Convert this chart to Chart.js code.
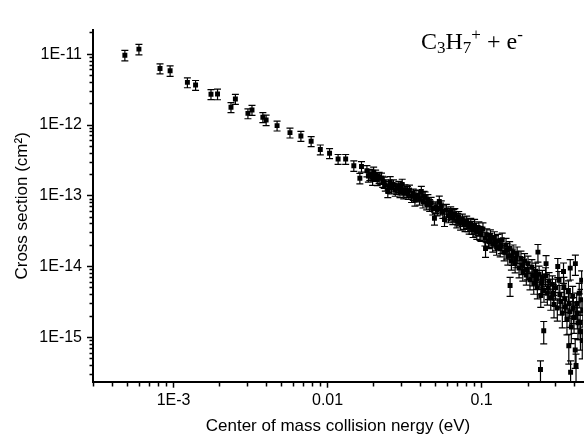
<!DOCTYPE html>
<html>
<head>
<meta charset="utf-8">
<script src="https://cdn.jsdelivr.net/npm/chart.js@4/dist/chart.umd.min.js"></script>
<style>
  html, body { margin: 0; padding: 0; background: #fff; }
  #wrap { position: relative; width: 587px; height: 437px; overflow: hidden; }
  #label {
    position: absolute; left: 421px; top: 29px;
    font-family: 'Liberation Serif', 'Times New Roman', serif;
    font-size: 24px; line-height: 24px; color: #000; white-space: nowrap;
  }
  #label sub, #label sup { font-size: 17px; position: relative; vertical-align: baseline; }
  #label sub { top: 4px; }
  #label sup { top: -9px; }
</style>
</head>
<body>
<div id="wrap">
  <canvas id="chart" width="587" height="437"></canvas>
  <div id="label">C<sub>3</sub>H<sub>7</sub><sup>+</sup> + e<sup>-</sup></div>
</div>
<script>
const X_TITLE = 'Center of mass collision nergy (eV)';
const Y_TITLE = 'Cross section (cm\u00B2)';

const X_TICK_VALUES = [1e-3, 1e-2, 1e-1];
const X_TICK_LABELS = ['1E-3', '0.01', '0.1'];
const Y_TICK_VALUES = [1e-15, 1e-14, 1e-13, 1e-12, 1e-11];
const Y_TICK_LABELS = ['1E-15', '1E-14', '1E-13', '1E-12', '1E-11'];

const X_MIN = 3e-4, X_MAX = 0.455;
const Y_MIN = 2.36e-16, Y_MAX = 2.2e-11;

// energy (eV)
const ENERGY = [
  4.83e-4, 5.96e-4, 8.17e-4, 9.5e-4, 1.23e-3, 1.39e-3, 1.75e-3, 1.93e-3, 2.36e-3, 2.52e-3,
  3.04e-3, 3.23e-3, 3.80e-3, 3.99e-3, 4.70e-3, 5.70e-3, 6.71e-3, 7.82e-3, 8.97e-3, 0.0103,
  0.0117, 0.0131, 0.0148, 0.0162, 0.0166,
  0.0180, 0.0184, 0.0196, 0.0199, 0.0205, 0.0216, 0.0224, 0.0228, 0.0237, 0.0246,
  0.0255, 0.0260, 0.0268, 0.0281, 0.0290, 0.0295, 0.0305, 0.0318, 0.0330, 0.0334,
  0.0351, 0.0369, 0.0375, 0.0388, 0.0406, 0.0416, 0.0430, 0.0448, 0.0460, 0.0482,
  0.0494, 0.0505, 0.0531, 0.0547, 0.0560, 0.0574,
  0.059, 0.061, 0.063, 0.065, 0.067, 0.069, 0.071, 0.073, 0.075, 0.078,
  0.080, 0.083, 0.085, 0.088, 0.090, 0.093, 0.096, 0.099, 0.102, 0.105,
  0.106, 0.108, 0.111, 0.114, 0.118, 0.121, 0.125, 0.128, 0.132, 0.136,
  0.140, 0.144, 0.148, 0.152, 0.153, 0.156, 0.160, 0.165, 0.170, 0.175,
  0.180, 0.185, 0.190, 0.195, 0.200, 0.206, 0.212, 0.218, 0.224, 0.230,
  0.232, 0.236, 0.241, 0.242, 0.248, 0.253, 0.254, 0.260, 0.262, 0.267,
  0.274, 0.281, 0.288, 0.295, 0.302, 0.310, 0.312, 0.318, 0.326, 0.334,
  0.340, 0.342, 0.350, 0.358, 0.366, 0.368, 0.374, 0.376, 0.378, 0.382,
  0.390, 0.398, 0.405, 0.406, 0.410, 0.414, 0.422, 0.430, 0.436, 0.438,
  0.446, 0.450, 0.454,
  // second sweep, interleaved with the first
  0.0188, 0.0210, 0.0233, 0.0250, 0.0275, 0.0300, 0.0312, 0.0340, 0.0360, 0.0395,
  0.0423, 0.0440, 0.0470, 0.0515, 0.0540, 0.0620, 0.0660, 0.0700, 0.0765, 0.0815,
  0.0865, 0.0915, 0.0975, 0.113, 0.123, 0.134, 0.146, 0.158, 0.167, 0.183,
  0.198, 0.215, 0.227, 0.245, 0.271, 0.292, 0.322, 0.346, 0.370, 0.394,
  0.418, 0.442
];

// cross section (cm2)
const XSEC = [
  9.7e-12, 1.18e-11, 6.3e-12, 5.85e-12, 4.0e-12, 3.67e-12, 2.72e-12, 2.74e-12, 1.78e-12, 2.33e-12,
  1.46e-12, 1.63e-12, 1.29e-12, 1.18e-12, 9.8e-13, 7.8e-13, 7.0e-13, 5.9e-13, 4.5e-13, 4.0e-13,
  3.3e-13, 3.3e-13, 2.66e-13, 1.77e-13, 2.6e-13,
  2.26e-13, 1.90e-13, 1.71e-13, 2.15e-13, 1.95e-13, 1.82e-13, 1.77e-13, 1.60e-13, 1.42e-13, 1.15e-13,
  1.58e-13, 1.30e-13, 1.42e-13, 1.28e-13, 1.35e-13, 1.15e-13, 1.45e-13, 1.21e-13, 1.15e-13, 1.08e-13,
  9.8e-14, 8.7e-14, 1.0e-13, 1.02e-13, 1.15e-13, 8.3e-14, 9.5e-14, 8.7e-14, 7.4e-14, 6.6e-14,
  4.8e-14, 6.9e-14, 8.3e-14, 7.1e-14, 6.0e-14, 4.6e-14,
  6.3e-14, 5.2e-14, 5.8e-14, 4.9e-14, 5.5e-14, 4.4e-14, 5.0e-14, 4.1e-14, 4.6e-14, 3.9e-14,
  4.3e-14, 3.6e-14, 4.0e-14, 3.3e-14, 3.8e-14, 3.1e-14, 3.5e-14, 2.9e-14, 3.4e-14, 2.5e-14,
  1.8e-14, 2.8e-14, 2.3e-14, 2.7e-14, 2.1e-14, 2.5e-14, 1.9e-14, 2.3e-14, 1.8e-14, 2.4e-14,
  1.6e-14, 2.0e-14, 1.4e-14, 1.8e-14, 5.4e-15, 1.2e-14, 1.6e-14, 1.1e-14, 1.5e-14, 9.5e-15,
  1.3e-14, 8.5e-15, 1.2e-14, 7.6e-15, 1.1e-14, 6.5e-15, 9.8e-15, 5.8e-15, 8.6e-15, 5.0e-15,
  1.6e-14, 7.8e-15, 3.5e-16, 3.9e-15, 6.8e-15, 1.24e-15, 4.6e-15, 7.4e-15, 1.1e-14, 4.2e-15,
  6.2e-15, 3.6e-15, 5.6e-15, 2.9e-15, 5.0e-15, 2.6e-15, 1.0e-14, 6.4e-15, 3.2e-15, 2.2e-15,
  8.5e-15, 5.2e-15, 2.7e-15, 1.8e-15, 4.6e-15, 7.6e-16, 2.3e-15, 9.5e-15, 3.2e-16, 1.4e-15,
  3.8e-15, 1.9e-15, 6.6e-16, 1.1e-14, 4.0e-16, 3.0e-15, 1.6e-15, 4.2e-15, 1.6e-15, 1.2e-15,
  6.4e-15, 9.0e-16, 2.4e-15,
  2.0e-13, 1.7e-13, 1.55e-13, 1.35e-13, 1.2e-13, 1.25e-13, 1.1e-13, 1.2e-13, 1.05e-13, 9.0e-14,
  9.8e-14, 7.8e-14, 8.0e-14, 6.4e-14, 6.6e-14, 5.5e-14, 5.3e-14, 4.7e-14, 4.2e-14, 3.9e-14,
  3.6e-14, 3.4e-14, 3.0e-14, 2.4e-14, 2.2e-14, 2.0e-14, 1.7e-14, 1.4e-14, 1.3e-14, 1.05e-14,
  9.0e-15, 7.5e-15, 6.8e-15, 5.8e-15, 5.0e-15, 4.2e-15, 4.0e-15, 3.5e-15, 3.0e-15, 2.6e-15,
  2.2e-15, 3.4e-15
];

// relative error of each point
const REL_ERR = [
  .17, .17, .16, .17, .16, .16, .16, .17, .16, .16,
  .16, .16, .16, .17, .16, .16, .16, .16, .16, .16,
  .16, .16, .17, .17, .17,
  .18, .18, .18, .18, .18, .18, .18, .18, .18, .18,
  .18, .18, .18, .18, .18, .18, .18, .18, .18, .18,
  .18, .18, .18, .18, .18, .19, .19, .19, .19, .19,
  .2, .19, .19, .19, .2, .2,
  .2, .2, .2, .2, .2, .2, .2, .2, .2, .2,
  .2, .2, .2, .22, .22, .22, .22, .22, .22, .22,
  .25, .22, .22, .22, .24, .24, .24, .24, .24, .24,
  .25, .25, .25, .25, .3, .26, .26, .26, .26, .27,
  .27, .27, .27, .28, .28, .28, .28, .3, .3, .3,
  .28, .3, .33, .32, .3, .35, .32, .3, .3, .32,
  .32, .33, .32, .35, .33, .35, .3, .33, .35, .38,
  .32, .35, .38, .4, .36, .45, .4, .32, .45, .42,
  .38, .4, .45, .32, .45, .4, .42, .38, .42, .45,
  .36, .45, .42,
  .18, .18, .18, .18, .18, .18, .18, .18, .18, .18,
  .18, .19, .19, .19, .19, .2, .2, .2, .2, .2,
  .21, .21, .22, .23, .24, .24, .25, .26, .26, .27,
  .28, .29, .3, .31, .32, .33, .35, .36, .38, .4,
  .4, .4
];

function logTicks(min, max) {
  const out = [];
  for (let n = Math.floor(Math.log10(min)); n <= Math.ceil(Math.log10(max)); n++) {
    for (let m = 1; m < 10; m++) {
      const v = m * Math.pow(10, n);
      if (v >= min * 0.999 && v <= max * 1.001) out.push(v);
    }
  }
  return out;
}

const isMajor = (v) => Math.abs(Math.log10(v) - Math.round(Math.log10(v))) < 1e-6;

function labelFor(v, values, labels) {
  const i = values.findIndex((t) => Math.abs(t - v) / t < 1e-6);
  return i < 0 ? '' : labels[i];
}

const errorBars = {
  id: 'errorBars',
  beforeDatasetsDraw(chart) {
    const { ctx, chartArea: a, scales: { x, y } } = chart;
    ctx.save();
    ctx.beginPath();
    ctx.rect(a.left, a.top, a.right - a.left, a.bottom - a.top);
    ctx.clip();
    ctx.strokeStyle = '#000';
    ctx.lineWidth = 1.2;
    ENERGY.forEach((e, i) => {
      const d = XSEC[i] * REL_ERR[i];
      const px = x.getPixelForValue(e);
      const top = y.getPixelForValue(XSEC[i] + d);
      const bot = y.getPixelForValue(Math.max(XSEC[i] - d, Y_MIN / 10));
      ctx.beginPath();
      ctx.moveTo(px, top);
      ctx.lineTo(px, bot);
      ctx.moveTo(px - 3.5, top);
      ctx.lineTo(px + 3.5, top);
      ctx.moveTo(px - 3.5, bot);
      ctx.lineTo(px + 3.5, bot);
      ctx.stroke();
    });
    ctx.restore();
  },
};

const tickFont = { family: "'Liberation Sans', Arial, sans-serif", size: 16 };
const titleFont = { family: "'Liberation Sans', Arial, sans-serif", size: 17 };

new Chart(document.getElementById('chart'), {
  type: 'scatter',
  data: {
    datasets: [{
      data: ENERGY.map((e, i) => ({ x: e, y: XSEC[i] })),
      pointStyle: 'rect',
      pointRadius: 3.5,
      pointBackgroundColor: '#000',
      pointBorderWidth: 0,
    }],
  },
  options: {
    responsive: false,
    animation: false,
    devicePixelRatio: 1,
    layout: { padding: { top: 30, right: 0, bottom: 0, left: 0 } },
    plugins: { legend: { display: false }, tooltip: { enabled: false } },
    scales: {
      x: {
        type: 'logarithmic',
        position: 'bottom',
        min: X_MIN,
        max: X_MAX,
        afterBuildTicks: (s) => { s.ticks = logTicks(X_MIN, X_MAX).map((v) => ({ value: v })); },
        afterFit: (s) => { s.height = 55.3; },
        ticks: {
          autoSkip: false, maxRotation: 0, padding: 3, color: '#000', font: tickFont,
          callback: (v) => labelFor(v, X_TICK_VALUES, X_TICK_LABELS),
        },
        grid: {
          drawOnChartArea: false, tickLength: 6, tickWidth: 1.5, tickColor: '#000',
          tickBorderDash: (c) => (isMajor(c.tick.value) ? [] : [3.5, 10]),
        },
        border: { color: '#000', width: 2 },
        title: { display: true, text: X_TITLE, color: '#000', font: titleFont, padding: { top: 0, bottom: 0 } },
      },
      y: {
        type: 'logarithmic',
        position: 'left',
        min: Y_MIN,
        max: Y_MAX,
        afterBuildTicks: (s) => { s.ticks = logTicks(Y_MIN, Y_MAX).map((v) => ({ value: v })); },
        afterFit: (s) => { s.width = 93; },
        ticks: {
          autoSkip: false, padding: 5, color: '#000', font: tickFont,
          callback: (v) => labelFor(v, Y_TICK_VALUES, Y_TICK_LABELS),
        },
        grid: {
          drawOnChartArea: false, tickLength: 6, tickWidth: 1.5, tickColor: '#000',
          tickBorderDash: (c) => (isMajor(c.tick.value) ? [] : [3.5, 2.5]),
          tickBorderDashOffset: (c) => (isMajor(c.tick.value) ? 0 : 3.5),
        },
        border: { color: '#000', width: 2 },
        title: { display: true, text: Y_TITLE, color: '#000', font: titleFont, padding: { top: 12, bottom: 0 } },
      },
    },
  },
  plugins: [errorBars],
});
</script>
</body>
</html>
